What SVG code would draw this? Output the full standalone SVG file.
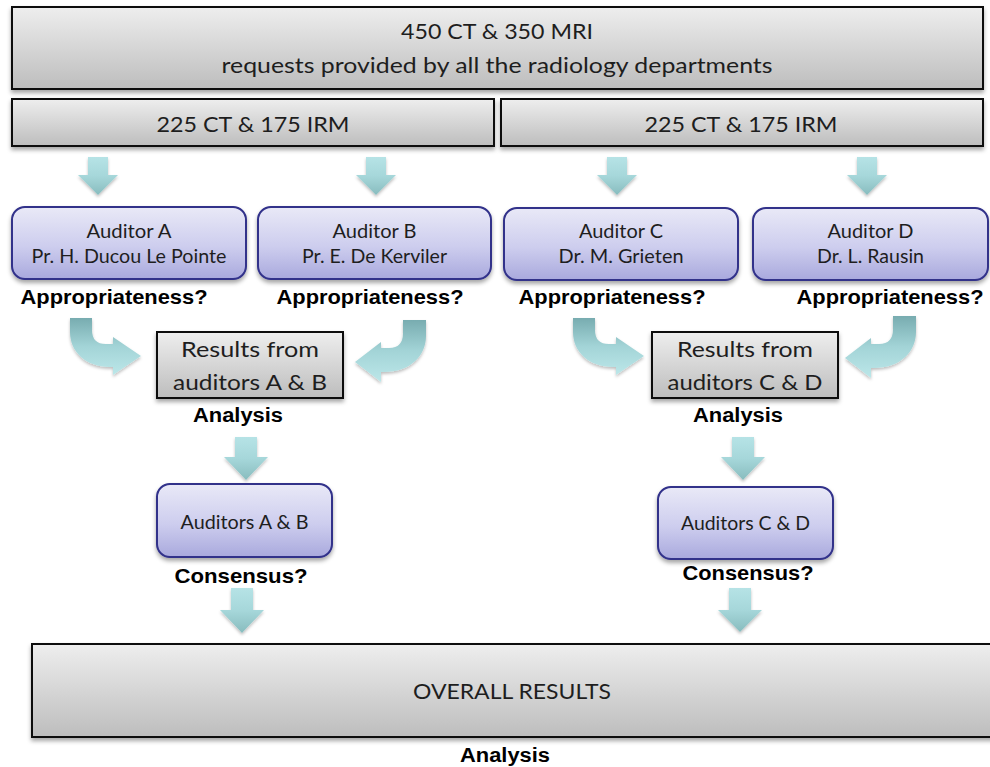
<svg xmlns="http://www.w3.org/2000/svg" width="990" height="767" viewBox="0 0 990 767">
<defs>
<linearGradient id="gGrey" x1="0" y1="0" x2="0" y2="1">
<stop offset="0" stop-color="#EEEEEE"/><stop offset="1" stop-color="#BDBDBD"/>
</linearGradient>
<linearGradient id="gBlue" x1="0" y1="0" x2="0" y2="1">
<stop offset="0" stop-color="#E9E9F7"/><stop offset="0.55" stop-color="#CDCDEE"/><stop offset="1" stop-color="#A9A9DD"/>
</linearGradient>
<linearGradient id="gDown" x1="0" y1="0" x2="0" y2="1">
<stop offset="0" stop-color="#B6E3E6"/><stop offset="0.5" stop-color="#A6D7DA"/><stop offset="1" stop-color="#88BCBE"/>
</linearGradient>
<linearGradient id="gBend" x1="0" y1="0" x2="0" y2="1">
<stop offset="0" stop-color="#78ACB0"/><stop offset="0.5" stop-color="#A3D4D7"/><stop offset="1" stop-color="#BCE7E9"/>
</linearGradient>
<filter id="sh" x="-10%" y="-20%" width="120%" height="150%">
<feDropShadow dx="0" dy="3" stdDeviation="2" flood-color="#000" flood-opacity="0.35"/>
</filter>
<filter id="ash" x="-30%" y="-30%" width="160%" height="160%">
<feDropShadow dx="0" dy="2" stdDeviation="1.5" flood-color="#000" flood-opacity="0.25"/>
</filter>
</defs>
<style>
.grey{fill:url(#gGrey);stroke:#111;stroke-width:2;filter:url(#sh)}
.aud{fill:url(#gBlue);stroke:#30308A;stroke-width:2;filter:url(#sh)}
.down{fill:url(#gDown);filter:url(#ash)}
.bend{fill:url(#gBend);filter:url(#ash)}
.t{font-family:Lato,"Open Sans","Liberation Sans",sans-serif;fill:#1E1E1E;text-anchor:middle}
.b{font-family:"Liberation Sans",Arial,sans-serif;font-weight:bold;fill:#000;text-anchor:middle}
</style>
<rect width="990" height="767" fill="#FFFFFF"/>

<g id="connectors">
<path class="down" d="M88 157H108V175H118L98 195L78 175H88Z"/>
<path class="down" d="M366 157H386V175H396L376 195L356 175H366Z"/>
<path class="down" d="M607 157H627V175H637L617 195L597 175H607Z"/>
<path class="down" d="M857 157H877V175H887L867 195L847 175H857Z"/>
<path class="bend" d="M70 318H92V330Q92 344 106 344H113V337L141 356L113 375V367H110C86 367 70 352 70 332Z"/>
<path class="bend" d="M426 320H403V333Q403 348 389 348H381V342L355 362L381 382V372H384C410 372 426 356 426 336Z"/>
<path class="bend" d="M573 318H595V330Q595 344 609 344H616V337L644 356L616 375V367H613C589 367 573 352 573 332Z"/>
<path class="bend" d="M916 316H893V329Q893 344 879 344H871V338L845 358L871 378V368H874C900 368 916 352 916 332Z"/>
<path class="down" d="M235 437H257V457H268L246 480L224 457H235Z"/>
<path class="down" d="M732 437H754V457H765L743 480L721 457H732Z"/>
<path class="down" d="M231 588H253V610H264L242 633L220 610H231Z"/>
<path class="down" d="M729 588H751V610H762L740 632L718 610H729Z"/>
</g>

<g id="all-requests">
<rect class="grey" x="12" y="7" width="971" height="82"/>
<text class="t" x="497" y="39" font-size="21.5" textLength="192" lengthAdjust="spacingAndGlyphs">450 CT &amp; 350 MRI</text>
<text class="t" x="497" y="73" font-size="21.5" textLength="551" lengthAdjust="spacingAndGlyphs">requests provided by all the radiology departments</text>
</g>
<g id="split-left">
<rect class="grey" x="12" y="99" width="482" height="47"/>
<text class="t" x="253" y="132" font-size="21.5" textLength="193" lengthAdjust="spacingAndGlyphs">225 CT &amp; 175 IRM</text>
</g>
<g id="split-right">
<rect class="grey" x="501" y="99" width="482" height="47"/>
<text class="t" x="741" y="132" font-size="21.5" textLength="193" lengthAdjust="spacingAndGlyphs">225 CT &amp; 175 IRM</text>
</g>

<g id="auditor-a">
<rect class="aud" x="12" y="207" width="234" height="72" rx="13"/>
<text class="t" x="129" y="238" font-size="19.5" textLength="85" lengthAdjust="spacingAndGlyphs">Auditor A</text>
<text class="t" x="129" y="263" font-size="19.5" textLength="195" lengthAdjust="spacingAndGlyphs">Pr. H. Ducou Le Pointe</text>
<text class="b" x="114" y="304" font-size="21" textLength="187" lengthAdjust="spacingAndGlyphs">Appropriateness?</text>
</g>
<g id="auditor-b">
<rect class="aud" x="258" y="207" width="233" height="72" rx="13"/>
<text class="t" x="374.5" y="238" font-size="19.5" textLength="84" lengthAdjust="spacingAndGlyphs">Auditor B</text>
<text class="t" x="374.5" y="263" font-size="19.5" textLength="145" lengthAdjust="spacingAndGlyphs">Pr. E. De Kerviler</text>
<text class="b" x="370" y="304" font-size="21" textLength="187" lengthAdjust="spacingAndGlyphs">Appropriateness?</text>
</g>
<g id="auditor-c">
<rect class="aud" x="504" y="208" width="234" height="72" rx="13"/>
<text class="t" x="621" y="238" font-size="19.5" textLength="84" lengthAdjust="spacingAndGlyphs">Auditor C</text>
<text class="t" x="621" y="263" font-size="19.5" textLength="125" lengthAdjust="spacingAndGlyphs">Dr. M. Grieten</text>
<text class="b" x="612" y="304" font-size="21" textLength="187" lengthAdjust="spacingAndGlyphs">Appropriateness?</text>
</g>
<g id="auditor-d">
<rect class="aud" x="753" y="208" width="235" height="72" rx="13"/>
<text class="t" x="870.5" y="238" font-size="19.5" textLength="86" lengthAdjust="spacingAndGlyphs">Auditor D</text>
<text class="t" x="870.5" y="263" font-size="19.5" textLength="107" lengthAdjust="spacingAndGlyphs">Dr. L. Rausin</text>
<text class="b" x="890" y="304" font-size="21" textLength="187" lengthAdjust="spacingAndGlyphs">Appropriateness?</text>
</g>

<g id="results-ab">
<rect class="grey" x="157" y="332" width="186" height="66"/>
<text class="t" x="250" y="357" font-size="22" textLength="138" lengthAdjust="spacingAndGlyphs">Results from</text>
<text class="t" x="250" y="390" font-size="22" textLength="154" lengthAdjust="spacingAndGlyphs">auditors A &amp; B</text>
<text class="b" x="238" y="422" font-size="20" textLength="90" lengthAdjust="spacingAndGlyphs">Analysis</text>
</g>
<g id="results-cd">
<rect class="grey" x="652" y="332" width="186" height="66"/>
<text class="t" x="745" y="357" font-size="22" textLength="136" lengthAdjust="spacingAndGlyphs">Results from</text>
<text class="t" x="745" y="390" font-size="22" textLength="155" lengthAdjust="spacingAndGlyphs">auditors C &amp; D</text>
<text class="b" x="738" y="422" font-size="20" textLength="90" lengthAdjust="spacingAndGlyphs">Analysis</text>
</g>

<g id="auditors-ab">
<rect class="aud" x="157" y="484" width="175" height="73" rx="13"/>
<text class="t" x="244.5" y="529" font-size="19.5" textLength="128" lengthAdjust="spacingAndGlyphs">Auditors A &amp; B</text>
<text class="b" x="241" y="583" font-size="21" textLength="133" lengthAdjust="spacingAndGlyphs">Consensus?</text>
</g>
<g id="auditors-cd">
<rect class="aud" x="658" y="487" width="175" height="72" rx="13"/>
<text class="t" x="745.5" y="530" font-size="19.5" textLength="129" lengthAdjust="spacingAndGlyphs">Auditors C &amp; D</text>
<text class="b" x="748" y="580" font-size="21" textLength="131" lengthAdjust="spacingAndGlyphs">Consensus?</text>
</g>

<g id="overall">
<rect class="grey" x="32" y="644" width="966" height="93"/>
<text class="t" x="512" y="699" font-size="22" textLength="198" lengthAdjust="spacingAndGlyphs">OVERALL RESULTS</text>
<text class="b" x="505" y="762" font-size="20" textLength="90" lengthAdjust="spacingAndGlyphs">Analysis</text>
</g>
</svg>
